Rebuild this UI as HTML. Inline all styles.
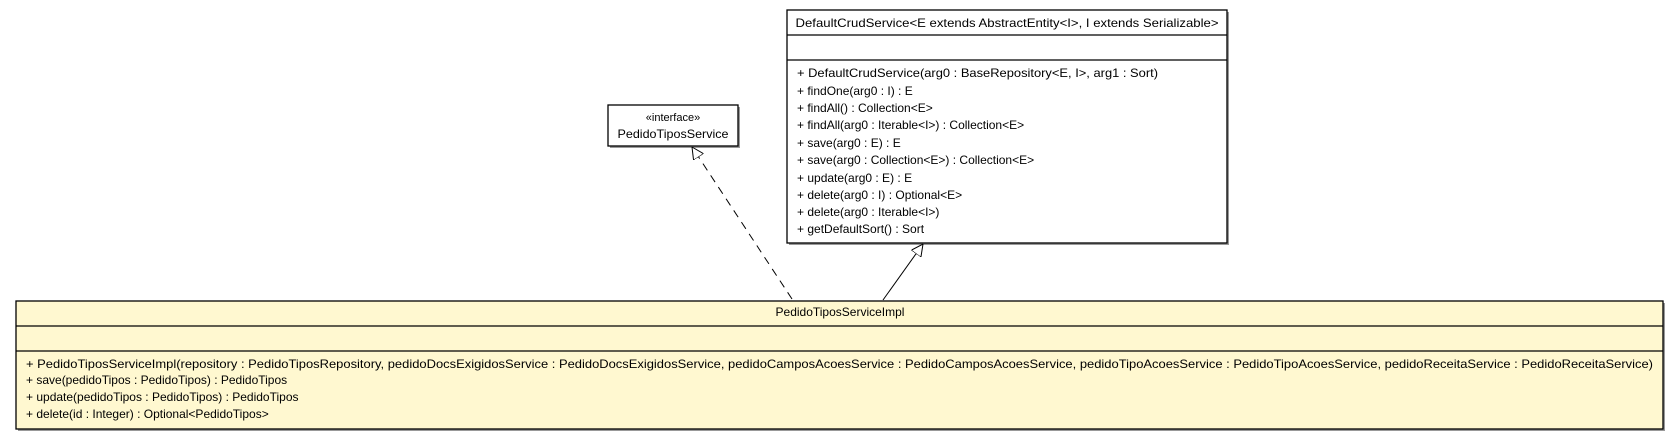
<!DOCTYPE html>
<html><head><meta charset="utf-8"><style>
html,body{margin:0;padding:0;background:#fff;}
svg{display:block;}
text{font-family:"Liberation Sans",sans-serif;font-size:12px;fill:#000;}
</style></head><body>
<svg width="1679" height="440" viewBox="0 0 1679 440" xmlns="http://www.w3.org/2000/svg">
<defs>
<marker id="tri" viewBox="0 0 12 12" refX="12" refY="6" markerWidth="12" markerHeight="12" markerUnits="userSpaceOnUse" orient="auto">
<path d="M0,0 L12,6 L0,12 Z" fill="#fff" stroke="#000" stroke-width="1"/>
</marker>
</defs>
<!-- DefaultCrudService -->
<rect x="789" y="12" width="440" height="233" fill="#999"/>
<rect x="787" y="10" width="440" height="233" fill="#fff" stroke="#000" stroke-width="1.3"/>
<line x1="787" y1="35" x2="1227" y2="35" stroke="#000" stroke-width="1.3"/>
<line x1="787" y1="60" x2="1227" y2="60" stroke="#000" stroke-width="1.3"/>
<text x="1007" y="27" text-anchor="middle" textLength="423" lengthAdjust="spacingAndGlyphs">DefaultCrudService&lt;E extends AbstractEntity&lt;I&gt;, I extends Serializable&gt;</text>
<text x="797" y="77" textLength="361" lengthAdjust="spacingAndGlyphs">+ DefaultCrudService(arg0 : BaseRepository&lt;E, I&gt;, arg1 : Sort)</text>
<text x="797" y="95">+ findOne(arg0 : I) : E</text>
<text x="797" y="112">+ findAll() : Collection&lt;E&gt;</text>
<text x="797" y="129">+ findAll(arg0 : Iterable&lt;I&gt;) : Collection&lt;E&gt;</text>
<text x="797" y="147">+ save(arg0 : E) : E</text>
<text x="797" y="164">+ save(arg0 : Collection&lt;E&gt;) : Collection&lt;E&gt;</text>
<text x="797" y="182">+ update(arg0 : E) : E</text>
<text x="797" y="199">+ delete(arg0 : I) : Optional&lt;E&gt;</text>
<text x="797" y="216">+ delete(arg0 : Iterable&lt;I&gt;)</text>
<text x="797" y="233">+ getDefaultSort() : Sort</text>
<!-- Interface -->
<rect x="610" y="107" width="130" height="41" fill="#999"/>
<rect x="608" y="105" width="130" height="41" fill="#fff" stroke="#000" stroke-width="1.3"/>
<text x="673" y="121" text-anchor="middle" style="font-size:11px">«interface»</text>
<text x="673" y="138" text-anchor="middle" textLength="111" lengthAdjust="spacingAndGlyphs">PedidoTiposService</text>
<!-- Impl -->
<rect x="18" y="303" width="1647" height="128" fill="#999"/>
<rect x="16" y="301" width="1647" height="128" fill="#fff8d0" stroke="#000" stroke-width="1.3"/>
<line x1="16" y1="326" x2="1663" y2="326" stroke="#000" stroke-width="1.3"/>
<line x1="16" y1="351" x2="1663" y2="351" stroke="#000" stroke-width="1.3"/>
<text x="840" y="316" text-anchor="middle">PedidoTiposServiceImpl</text>
<text x="26" y="368" textLength="1627" lengthAdjust="spacingAndGlyphs">+ PedidoTiposServiceImpl(repository : PedidoTiposRepository, pedidoDocsExigidosService : PedidoDocsExigidosService, pedidoCamposAcoesService : PedidoCamposAcoesService, pedidoTipoAcoesService : PedidoTipoAcoesService, pedidoReceitaService : PedidoReceitaService)</text>
<text x="26" y="384">+ save(pedidoTipos : PedidoTipos) : PedidoTipos</text>
<text x="26" y="401">+ update(pedidoTipos : PedidoTipos) : PedidoTipos</text>
<text x="26" y="418">+ delete(id : Integer) : Optional&lt;PedidoTipos&gt;</text>
<!-- connectors -->
<line x1="792" y1="299" x2="692" y2="147" stroke="#000" stroke-width="1" stroke-dasharray="8,6" marker-end="url(#tri)"/>
<line x1="883" y1="300" x2="923" y2="244" stroke="#000" stroke-width="1" marker-end="url(#tri)"/>
</svg>
</body></html>
